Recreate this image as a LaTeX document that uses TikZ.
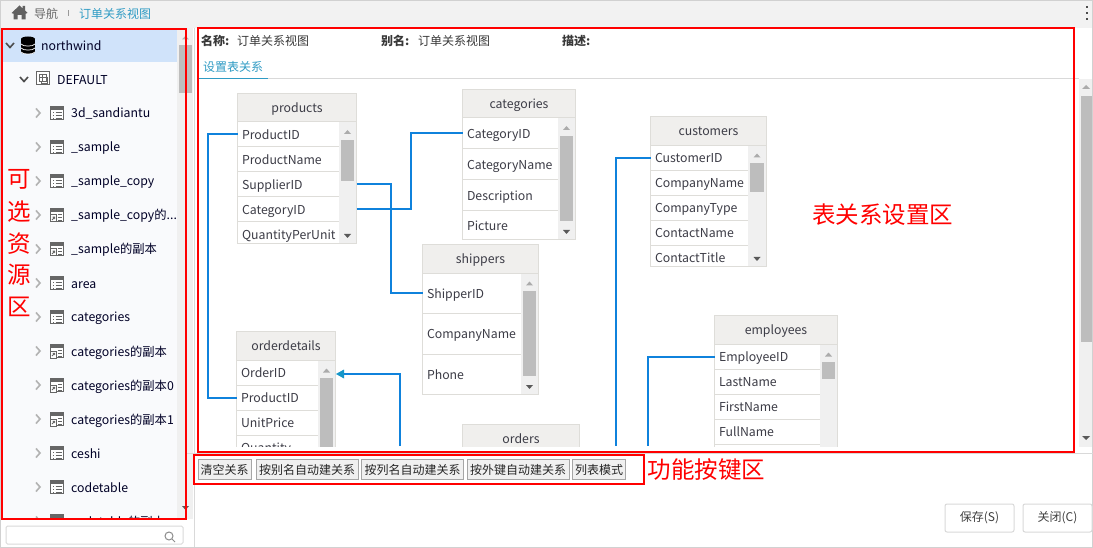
\documentclass[tikz,border=0pt]{standalone}
\usepackage{fontspec}
\setmainfont{Noto Sans CJK SC}
\definecolor{linkblue}{HTML}{0F82DC}
\definecolor{tipblue}{HTML}{1596C8}
\definecolor{tabblue}{HTML}{2F9BC4}
\definecolor{cellline}{HTML}{DEDDD9}
\definecolor{headfill}{HTML}{F0EFED}
\definecolor{scrollbg}{HTML}{F0F0F0}
\definecolor{thumbc}{HTML}{BDBDBD}
\definecolor{inktext}{HTML}{3C3C46}
\definecolor{redmark}{HTML}{FF0000}
\definecolor{sidebg}{HTML}{F9FAFC}
\definecolor{selbg}{HTML}{D0E3FA}
\tikzset{
  cell/.style={rectangle,outer sep=0pt,inner ysep=0pt,inner xsep=4.5pt,align=left,anchor=north west,font=\fontsize{12.3}{14}\selectfont,text=inktext,text height=11pt,text depth=1.5pt},
  headcell/.style={rectangle,outer sep=0pt,inner sep=0pt,anchor=north west,font=\fontsize{12.3}{14}\selectfont,text=inktext,fill=headfill,draw=cellline,line width=1pt,text height=11pt,text depth=1.5pt},
  treetext/.style={anchor=west,inner sep=0pt,font=\fontsize{12.3}{14}\selectfont,text=black!85!blue,text height=11.5pt,text depth=1.5pt},
  uitext/.style={anchor=west,inner sep=0pt,font=\fontsize{12}{14}\selectfont,text=black!78},
  redbox/.style={draw=redmark,line width=2pt},
  redlabel/.style={inner sep=0pt,text=redmark,font=\fontsize{23.5}{25}\selectfont},
  btn/.style={rectangle,outer sep=0pt,draw=black!35,fill=scrollbg,line width=1pt,inner sep=0pt,anchor=north west,font=\fontsize{12}{14}\selectfont,text=black!85},
  bigbtn/.style={rectangle,outer sep=0pt,draw=black!15,fill=white,rounded corners=2pt,line width=1pt,inner sep=0pt,anchor=north west,font=\fontsize{12}{14}\selectfont,text=black!75},
  link/.style={draw=linkblue,line width=2pt},
}
% id x0 x1 y0 headerbottom rowright bottom title thumbtop thumbbottom rows
\newcommand{\dbtable}[1]{\def\tid{#1}\dbtableB}
\newcommand{\dbtableB}[7]{\def\xa{#1}\def\xb{#2}\def\ya{#3}\def\yh{#4}\def\xr{#5}\def\yb{#6}\def\ttl{#7}\dbtableC}
\newcommand{\dbtableC}[3]{%
  \pgfmathsetmacro{\tabw}{\xb-\xa}
  \pgfmathsetmacro{\tabh}{\yh-\ya}
  \pgfmathsetmacro{\txtw}{\tabw-9}
  \pgfmathsetmacro{\thx}{\xr+2}
  \pgfmathsetmacro{\thxb}{\xb-2.5}
  \pgfmathsetmacro{\arrx}{(\thx+\thxb)/2}
  \fill[scrollbg] (\xr,\yh) rectangle (\xb,\yb);
  \fill[thumbc] (\thx,#1) rectangle (\thxb,#2);
  \fill[black!33] (\arrx-3.5,\yh+12) -- (\arrx+3.5,\yh+12) -- (\arrx,\yh+8) -- cycle;
  \fill[black!65] (\arrx-3.5,\yb-9.5) -- (\arrx+3.5,\yb-9.5) -- (\arrx,\yb-5.5) -- cycle;
  \foreach \rowa/\rowb/\rowt [count=\rowi] in {#3} {
    \pgfmathsetmacro{\rowh}{\rowb-\rowa}
    \node[cell,text width=\txtw pt,minimum height=\rowh pt] (\tid-\rowi) at (\xa,\rowa) {\rowt};
    \ifdim\rowb pt<\yb pt \draw[cellline,line width=1pt] (\xa,\rowb) -- (\xr,\rowb);\fi
  }
  \draw[cellline,line width=1pt] (\xa,\ya) rectangle (\xb,\yb);
  \node[headcell,minimum width=\tabw pt,minimum height=\tabh pt] (\tid-h) at (\xa,\ya) {\ttl};
}
\newcommand{\gridicon}[2]{%
  \draw[black!60,line width=1pt,fill=white] (#1,#2-6.5) rectangle (#1+13,#2+6.5);
  \fill[black!60] (#1,#2-6.5) rectangle (#1+13,#2-3);
  \foreach \k in {-0.5,2.5,5}{\draw[black!60,line width=.8pt] (#1+2.5,#2+\k) -- (#1+3.8,#2+\k) (#1+5,#2+\k) -- (#1+11,#2+\k);}
}
\newcommand{\viewicon}[2]{%
  \draw[black!60,line width=1pt,fill=white] (#1,#2-6.5) rectangle (#1+13,#2+6.5);
  \fill[black!60] (#1,#2-6.5) rectangle (#1+13,#2-3);
  \foreach \k in {-0.5,2.5,5}{\draw[black!60,line width=.8pt] (#1+7.5,#2+\k) -- (#1+11,#2+\k);}
  \draw[black!60,line width=1pt,fill=white] (#1-.5,#2) rectangle (#1+6,#2+7);
  \draw[black!60,line width=.9pt] (#1+1.5,#2+5) -- (#1+4,#2+2.3) (#1+2,#2+2.2) -- (#1+4.2,#2+2.2) -- (#1+4.2,#2+4.2);
}
\newcommand{\treechev}[2]{\draw[black!30,line width=1.6pt] (#1,#2-4.5) -- (#1+4,#2) -- (#1,#2+4.5);}
\newcommand{\treerow}[4]{%
  \treechev{36}{#1}
  \csname #2icon\endcsname{50.5}{#1}
  \node[treetext] (#3) at (71,#1) {#4};
}
\begin{document}
\begin{tikzpicture}[x=1pt,y=-1pt]
\useasboundingbox (0,0) rectangle (1093,548);
\fill[white] (0,0) rectangle (1093,548);
% top bar
\fill[black!5] (0,0) rectangle (1093,28);
\draw[black!18,line width=1pt] (0.5,0.5) rectangle (1092.5,547.5);
\fill[black!62] (11.5,13) -- (19.5,5.5) -- (22.5,8.3) -- (22.5,6) -- (25,6) -- (25,10.5) -- (27.5,13) -- (25.5,13.7) -- (25.5,19.5) -- (21.5,19.5) -- (21.5,15) -- (17.5,15) -- (17.5,19.5) -- (13.5,19.5) -- (13.5,13.7) -- cycle;
\node[uitext,text=black!60] (nav) at (34,13.5) {导航};
\draw[black!40,line width=.8pt] (68,10.5) -- (68,16.5);
\node[uitext,text=tabblue] (crumb) at (79,13.5) {订单关系视图};
\foreach \d in {7,13,19}{\fill[black!70] (1085.7,\d-1) rectangle (1088,\d+1);}
% sidebar
\fill[sidebg] (1,28) rectangle (177,519);
\fill[scrollbg] (177,28) rectangle (193,519);
\fill[selbg] (2,30) rectangle (177,62);
\fill[thumbc] (179,45) rectangle (192,93);
\fill[black!30] (182,39.5) -- (189,39.5) -- (185.5,36) -- cycle;
\fill[black!65] (182,506) -- (189,506) -- (185.5,510) -- cycle;
\draw[black!15,line width=1pt] (194.5,28) -- (194.5,547);
\draw[black!15,line width=1pt] (186,453.5) -- (1093,453.5);
\draw[black!70,line width=1.6pt] (6,43) -- (10,47.5) -- (14,43);
\draw[black!70,line width=1.6pt] (20,77) -- (24,81.5) -- (28,77);
\foreach \yy in {50,46,42}{\fill[black] (21,\yy-3) rectangle (35,\yy+2);\fill[black] (28,\yy+2) ellipse (7 and 2);\draw[white,line width=.7pt] (21,\yy+2) .. controls (23,\yy+4.8) and (33,\yy+4.8) .. (35,\yy+2);}
\fill[black] (28,39) ellipse (7 and 2.5);
\node[treetext] (root) at (41,45.5) {northwind};
\draw[black!60,line width=1pt,fill=white] (36.5,71.5) rectangle (49.5,85);
\draw[black!60,line width=.8pt] (39,74) rectangle (46,81) (39,77.5) -- (46,77.5) (42.5,74) -- (42.5,81) (46,77) -- (47.5,77) -- (47.5,83) -- (41,83) -- (41,81);
\node[treetext] (default) at (57,79.5) {DEFAULT};
\begin{scope}
\clip (1,28) rectangle (177,518);
\treerow{113}{grid}{t1}{3d\_sandiantu}
\treerow{147}{grid}{t2}{\_sample}
\treerow{181}{grid}{t3}{\_sample\_copy}
\treerow{215}{view}{t4}{\_sample\_copy的...}
\treerow{249}{view}{t5}{\_sample的副本}
\treerow{283}{grid}{t6}{area}
\treerow{317}{grid}{t7}{categories}
\treerow{351}{view}{t8}{categories的副本}
\treerow{385}{view}{t9}{categories的副本0}
\treerow{419}{view}{t10}{categories的副本1}
\treerow{453}{grid}{t11}{ceshi}
\treerow{487}{grid}{t12}{codetable}
\treerow{521}{view}{t13}{codetable的副本}
\end{scope}
% search box
\node[rectangle,outer sep=0pt,draw=black!15,fill=white,rounded corners=1.5pt,line width=1pt,inner sep=0pt,minimum width=177pt,minimum height=18pt,anchor=north west] (search) at (6,526) {};
\draw[black!45,line width=1pt] (169,536) circle (4);
\draw[black!45,line width=1pt] (172,539) -- (175,542);
% header of main panel
\node[uitext,font=\fontsize{12}{14}\selectfont\bfseries] (n1) at (201,41) {名称:};
\node[uitext] (n2) at (237,41) {订单关系视图};
\node[uitext,font=\fontsize{12}{14}\selectfont\bfseries] (a1) at (381,41) {别名:};
\node[uitext] (a2) at (418,41) {订单关系视图};
\node[uitext,font=\fontsize{12}{14}\selectfont\bfseries] (d1) at (562,41) {描述:};
\node[uitext,text=tabblue] (tab) at (203,66.5) {设置表关系};
\draw[black!15,line width=1pt] (197,78.5) -- (1079,78.5);
\draw[tabblue,line width=1pt] (198,78.5) -- (268,78.5);
% right scrollbar
\fill[scrollbg] (1079,79) rectangle (1092,447);
\fill[thumbc] (1081,96) rectangle (1092,342);
\fill[black!33] (1082,89) -- (1090,89) -- (1086,85) -- cycle;
\fill[black!65] (1082,436) -- (1090,436) -- (1086,440) -- cycle;
% tables and links
\begin{scope}
\clip (197,79) rectangle (1079,446);
\coordinate (odown) at (400,446);
\coordinate (cdown) at (616,446);
\coordinate (edown) at (648,446);
\dbtable{prod}{237.5}{356.5}{93.5}{122}{339}{243.5}{products}{140}{181}{122/147/ProductID,147/172/ProductName,172/197/SupplierID,197/222/CategoryID,222/247/QuantityPerUnit}
\dbtable{cat}{462.5}{575.5}{89.5}{118}{558}{239.5}{categories}{136}{221}{118/149/CategoryID,149/180/CategoryName,180/211/Description,211/241/Picture}
\dbtable{ship}{422.5}{538.5}{244.5}{273.5}{521}{394.5}{shippers}{291}{376}{273.5/313.5/ShipperID,313.5/354.5/CompanyName,354.5/395.5/Phone}
\dbtable{od}{236.5}{335.5}{331.5}{360.5}{318}{520}{orderdetails}{378}{520}{360.5/385.5/OrderID,385.5/410.5/ProductID,410.5/435.5/UnitPrice,435.5/460.5/Quantity}
\dbtable{ord}{462.5}{579.5}{424.5}{453.5}{562}{520}{orders}{470}{500}{453.5/478.5/{}}
\dbtable{cust}{650.5}{766.5}{116.5}{145.5}{748}{266.5}{customers}{163}{192}{145.5/170.5/CustomerID,170.5/195.5/CompanyName,195.5/220.5/CompanyType,220.5/245.5/ContactName,245.5/270.5/ContactTitle}
\dbtable{emp}{714.5}{837.5}{315.5}{344.5}{820}{520}{employees}{362}{379}{344.5/369.5/EmployeeID,369.5/394.5/LastName,394.5/419.5/FirstName,419.5/444.5/FullName}
\draw[link] (prod-1.west) -- ++(-30,0) |- (od-2.west);
\draw[link] (prod-3.east) -- ++(34.5,0) |- (ship-1.west);
\draw[link] (prod-4.east) -- ++(54,0) |- (cat-1.west);
\draw[link] (cust-1.west) -| (cdown);
\draw[link] (emp-1.west) -| (edown);
\draw[link] (odown) |- (343,374);
\fill[tipblue] (336,374) -- (344,369.5) -- (344,378.5) -- cycle;
\end{scope}
% red boxes
\draw[redbox] (1.5,29) rectangle (186,519);
\draw[redbox] (197.5,28) rectangle (1073.5,451.5);
\draw[redbox] (193.5,455) rectangle (644,484);
% buttons
\node[btn,minimum width=53pt,minimum height=20pt] (b1) at (198,459.5) {清空关系};
\node[btn,minimum width=102pt,minimum height=20pt] (b2) at (256,459.5) {按别名自动建关系};
\node[btn,minimum width=102pt,minimum height=20pt] (b3) at (361.5,459.5) {按列名自动建关系};
\node[btn,minimum width=102pt,minimum height=20pt] (b4) at (467,459.5) {按外键自动建关系};
\node[btn,minimum width=53pt,minimum height=20pt] (b5) at (572.5,459.5) {列表模式};
\node[bigbtn,minimum width=69pt,minimum height=28pt] (save) at (945,504) {保存(S)};
\node[bigbtn,minimum width=69pt,minimum height=28pt] (close) at (1023,504) {关闭(C)};
% red labels
\node[redlabel] (r1) at (19,179) {可};
\node[redlabel] (r2) at (19,212) {选};
\node[redlabel] (r3) at (19,243.5) {资};
\node[redlabel] (r4) at (19,275) {源};
\node[redlabel] (r5) at (19,306.5) {区};
\node[redlabel] (r6) at (882.5,215) {表关系设置区};
\node[redlabel] (r7) at (706.5,470) {功能按键区};
\end{tikzpicture}
\end{document}
